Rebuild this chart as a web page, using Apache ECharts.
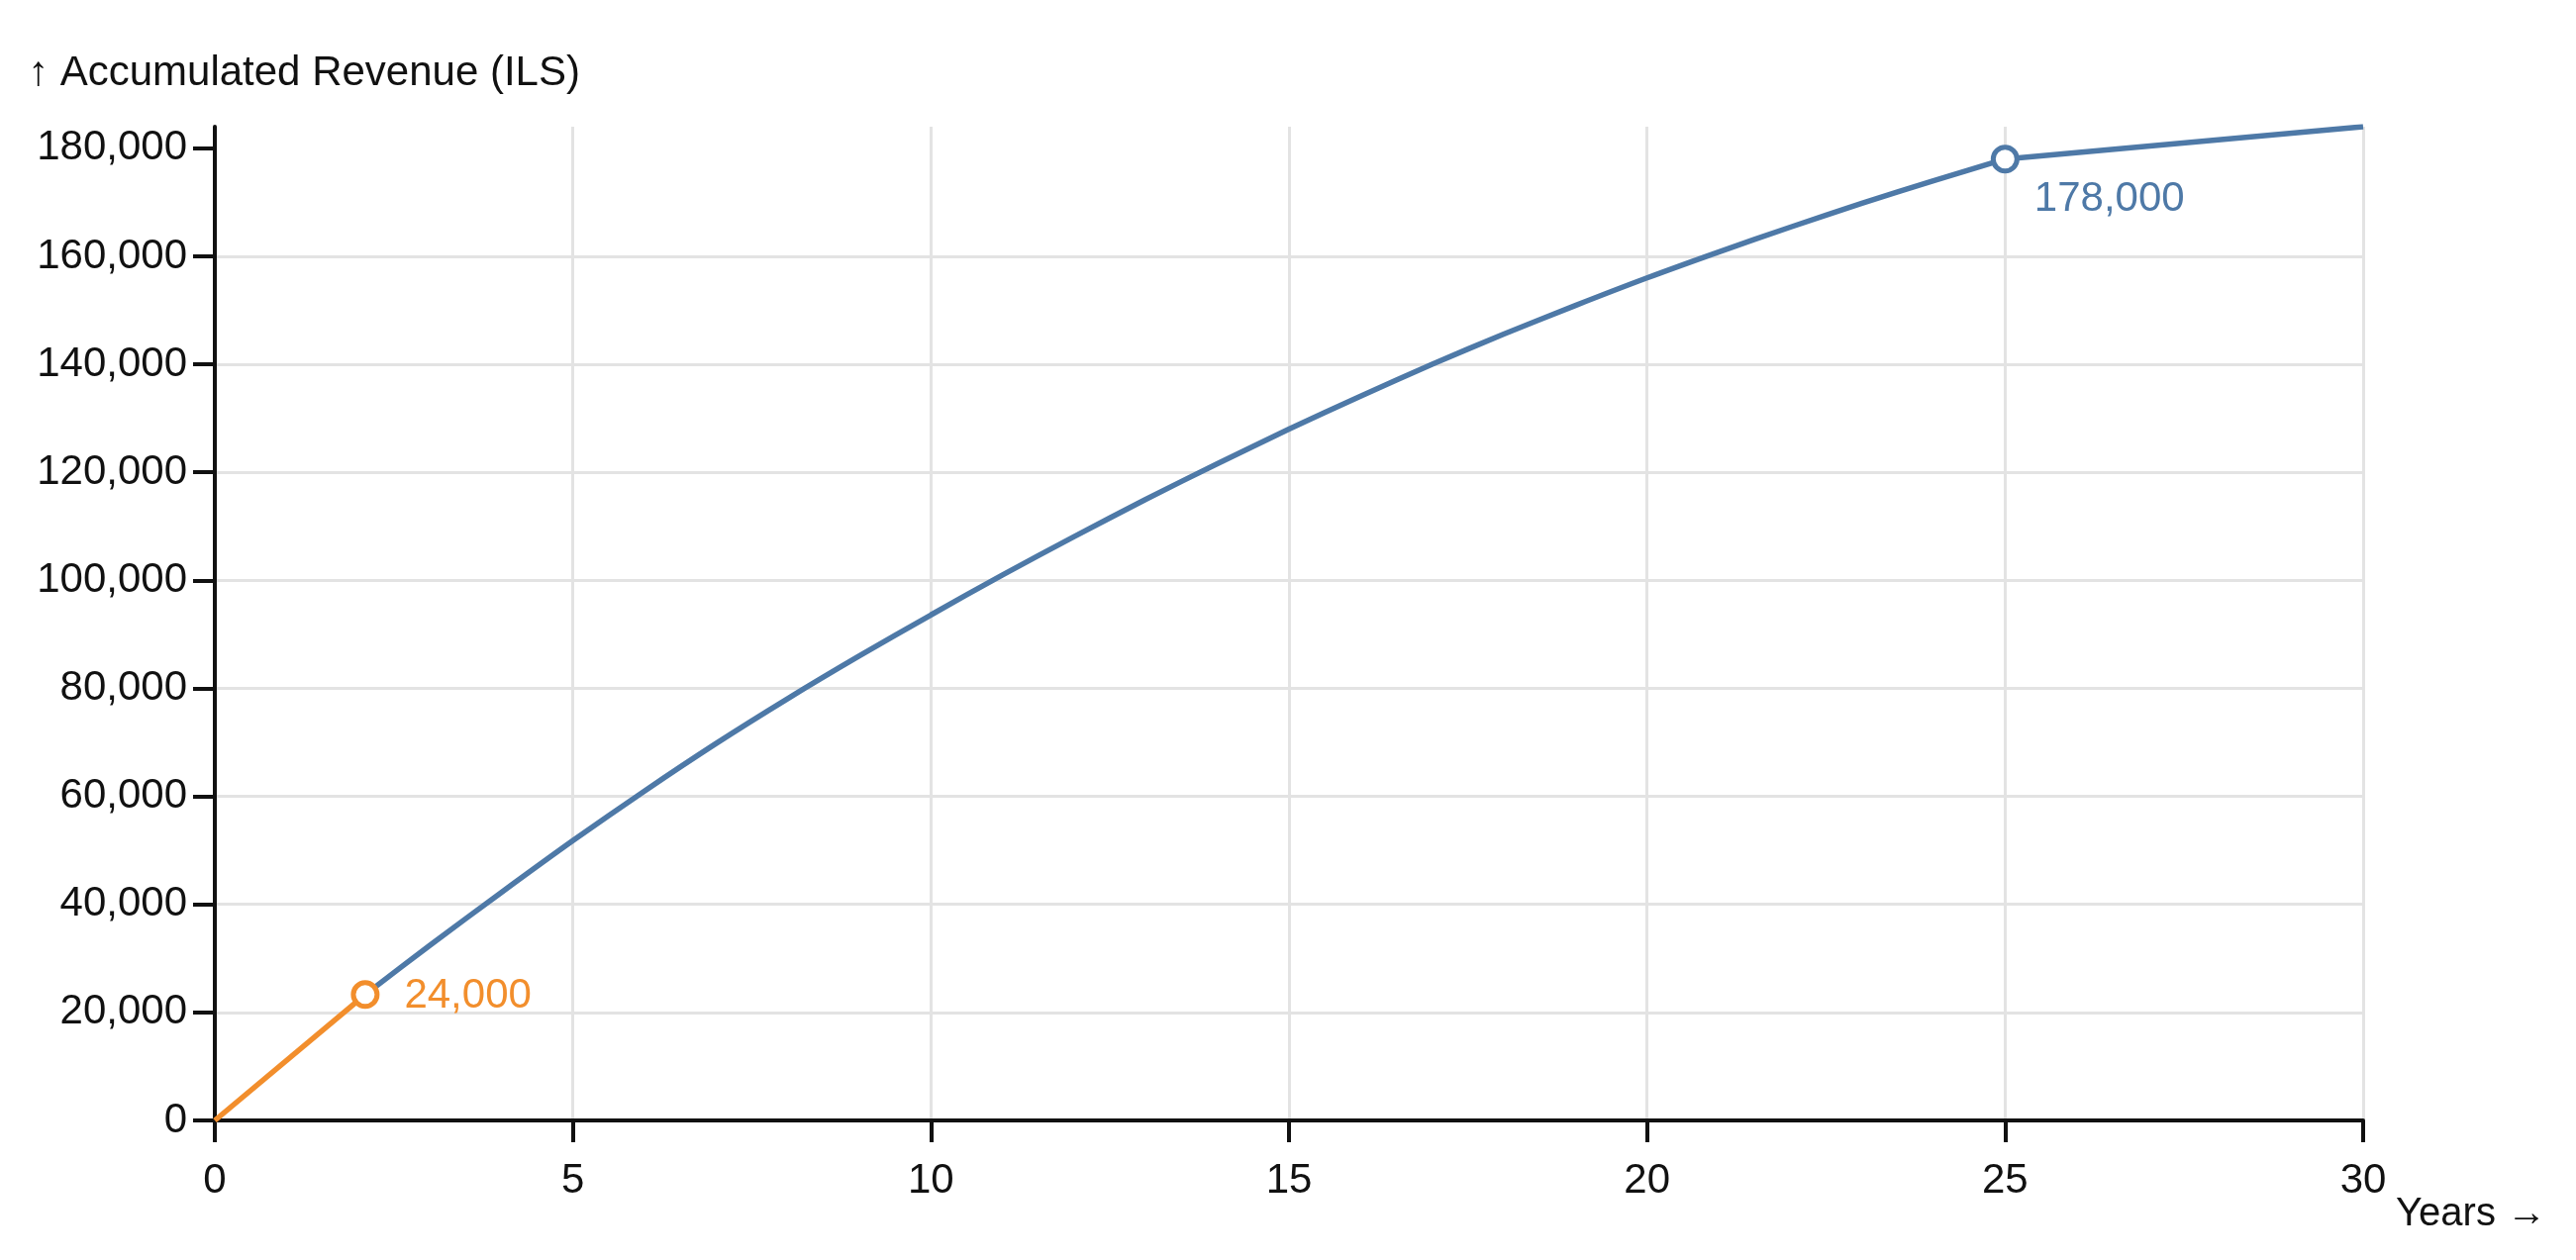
<!DOCTYPE html>
<html>
<head>
<meta charset="utf-8">
<title>Accumulated Revenue</title>
<script src="https://cdn.jsdelivr.net/npm/echarts@6/dist/echarts.min.js"></script>
<style>
  html, body { margin: 0; padding: 0; background: #fff; }
  #chart { width: 2602px; height: 1273px; }
</style>
</head>
<body>
<div id="chart"></div>
<script>
// payback part (orange)
const paybackYears = [0, 2.1];
const paybackValues = [0, 23300];

// accumulated revenue after payback (blue)
const revenueYears = [2.1, 3, 4, 5, 6, 7, 8, 9, 10, 11, 12, 13, 14, 15, 16, 17, 18, 19, 20, 21, 22, 23, 24, 25, 30];
const revenueValues = [23300, 32400, 42200, 51800, 61000, 69800, 78100, 86000, 93600, 101000, 108100, 115000, 121600, 128000,
  134100, 140000, 145600, 150900, 156000, 160800, 165400, 169800, 174000, 178000, 184000];

// highlighted points
const markYears = [2.1, 25];
const markValues = [23300, 178000];
const markLabels = ['24,000', '178,000'];

const yTicks = [0, 20000, 40000, 60000, 80000, 100000, 120000, 140000, 160000, 180000];

const BLUE = '#4e79a7';
const ORANGE = '#f28e2c';
const FONT = '"Liberation Sans", Arial, sans-serif';

const revenuePoints = revenueYears.map((x, i) => [x, revenueValues[i]]);
const kink = revenueYears.indexOf(25); // curve bends at year 25

const myChart = echarts.init(document.getElementById('chart'));

const option = {
  backgroundColor: '#fff',
  animation: false,
  textStyle: { fontFamily: FONT },
  grid: { left: 217, right: 215, top: 128, bottom: 141 },
  graphic: [
    {
      type: 'text',
      left: 28,
      top: 53,
      style: { text: '↑ Accumulated Revenue (ILS)', fontSize: 42, fontFamily: FONT, fill: '#111' }
    },
    {
      type: 'text',
      right: 30,
      top: 1207,
      style: { text: 'Years →', fontSize: 40, fontFamily: FONT, fill: '#111' }
    }
  ],
  xAxis: {
    type: 'value',
    min: 0,
    max: 30,
    interval: 5,
    axisLine: { show: true, onZero: false, lineStyle: { color: '#111', width: 4 } },
    axisTick: { show: true, length: 22, lineStyle: { color: '#111', width: 4 } },
    axisLabel: { fontSize: 42, color: '#111', margin: 40, fontFamily: FONT },
    splitLine: { show: true, lineStyle: { color: '#e3e3e3', width: 3 } }
  },
  yAxis: {
    type: 'value',
    min: 0,
    max: 184000,
    interval: 20000,
    axisLine: { show: true, lineStyle: { color: '#111', width: 4 } },
    axisTick: { show: true, length: 22, customValues: yTicks, lineStyle: { color: '#111', width: 4 } },
    axisLabel: {
      fontSize: 42,
      color: '#111',
      margin: 28,
      fontFamily: FONT,
      customValues: yTicks,
      formatter: (v) => v.toLocaleString('en-US')
    },
    splitLine: { show: true, showMaxLine: false, lineStyle: { color: '#e3e3e3', width: 3 } }
  },
  series: [
    {
      name: 'revenue',
      type: 'line',
      showSymbol: false,
      smooth: 0.3,
      lineStyle: { color: BLUE, width: 5.5 },
      data: revenuePoints.slice(0, kink + 1),
      z: 2
    },
    {
      name: 'revenue tail',
      type: 'line',
      showSymbol: false,
      lineStyle: { color: BLUE, width: 5.5 },
      data: revenuePoints.slice(kink),
      z: 2
    },
    {
      name: 'payback',
      type: 'line',
      showSymbol: false,
      lineStyle: { color: ORANGE, width: 5.5 },
      data: paybackYears.map((x, i) => [x, paybackValues[i]]),
      z: 3
    },
    {
      name: 'marks',
      type: 'scatter',
      symbol: 'circle',
      symbolSize: 24,
      z: 5,
      data: markYears.map((x, i) => {
        const c = i === 0 ? ORANGE : BLUE;
        return {
          value: [x, markValues[i]],
          itemStyle: { color: '#fff', borderColor: c, borderWidth: 5, opacity: 1 },
          label: {
            show: true,
            formatter: markLabels[i],
            position: 'right',
            distance: i === 0 ? 25 : 15,
            offset: i === 0 ? [0, 2] : [0, 41],
            color: c,
            fontSize: 42,
            fontFamily: FONT
          }
        };
      })
    }
  ]
};

myChart.setOption(option);
</script>
</body>
</html>
